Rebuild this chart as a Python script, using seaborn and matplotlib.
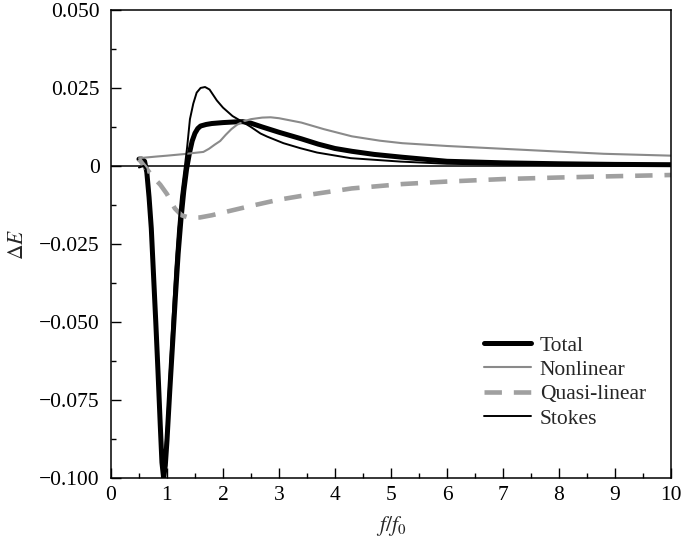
import numpy as np
import pandas as pd
import matplotlib
matplotlib.use("Agg")
import matplotlib.pyplot as plt
import seaborn as sns
from matplotlib.ticker import MultipleLocator, FixedLocator

# ---- data ----
total_f = [0.50, 0.55, 0.60, 0.64, 0.68, 0.72, 0.76, 0.80, 0.84, 0.88, 0.91, 0.94, 0.97,
           1.00, 1.05, 1.10, 1.15, 1.20, 1.25, 1.30, 1.35, 1.40, 1.45, 1.50, 1.55, 1.60,
           1.70, 1.80, 2.00, 2.20, 2.35, 2.50, 2.70, 3.00, 3.40, 3.70, 4.00, 4.30, 4.70,
           5.20, 6.00, 7.00, 8.00, 9.00, 10.0]
total_E = [0.0022, 0.0022, 0.0015, -0.002, -0.010, -0.020, -0.035, -0.050, -0.066, -0.083,
           -0.095, -0.100, -0.096, -0.088, -0.072, -0.057, -0.042, -0.028, -0.017, -0.008,
           -0.001, 0.004, 0.008, 0.0105, 0.012, 0.0128, 0.0133, 0.0136, 0.0139, 0.0141,
           0.0142, 0.0137, 0.0125, 0.0108, 0.0087, 0.0070, 0.0056, 0.0047, 0.0037, 0.0028,
           0.0015, 0.0010, 0.0007, 0.0005, 0.0004]

nonlin_f = [0.50, 0.80, 1.00, 1.30, 1.50, 1.65, 1.75, 1.85, 1.95, 2.05, 2.15, 2.25, 2.37,
            2.50, 2.70, 2.85, 3.00, 3.40, 3.80, 4.30, 4.80, 5.20, 6.00, 7.00, 8.00, 8.80, 10.0]
nonlin_E = [0.0025, 0.0030, 0.0033, 0.0038, 0.0042, 0.0045, 0.0055, 0.0068, 0.0080, 0.0100,
            0.0118, 0.0132, 0.0143, 0.0150, 0.0155, 0.0156, 0.0153, 0.0139, 0.0118, 0.0095,
            0.0081, 0.0073, 0.0064, 0.0055, 0.0046, 0.0039, 0.0033]

quasi_f = [0.50, 0.55, 0.65, 0.75, 0.88, 1.00, 1.14, 1.26, 1.40, 1.59, 1.80, 2.10, 2.50,
           3.00, 3.40, 4.30, 5.20, 6.00, 7.00, 8.00, 8.70, 10.0]
quasi_E = [0.0022, 0.0010, -0.0012, -0.0035, -0.0060, -0.0090, -0.0136, -0.0158, -0.0166,
           -0.0165, -0.0158, -0.0145, -0.0128, -0.0108, -0.0096, -0.0072, -0.0058, -0.0050,
           -0.0042, -0.0037, -0.0034, -0.0029]

stokes_f = [0.50, 0.58, 0.62, 0.66, 0.70, 0.74, 0.78, 0.82, 0.86, 0.90, 0.93, 0.96, 1.00,
            1.05, 1.10, 1.15, 1.20, 1.25, 1.32, 1.36, 1.41, 1.47, 1.53, 1.60, 1.68, 1.76,
            1.89, 2.00, 2.17, 2.34, 2.49, 2.67, 2.79, 3.08, 3.38, 3.68, 4.28, 5.17, 6.00,
            7.00, 8.00, 10.0]
stokes_E = [-0.0005, 0.0000, -0.001, -0.006, -0.014, -0.026, -0.040, -0.055, -0.072, -0.088,
            -0.095, -0.093, -0.083, -0.066, -0.049, -0.033, -0.020, -0.010, 0.000, 0.006,
            0.015, 0.020, 0.0235, 0.0250, 0.0253, 0.0245, 0.0210, 0.0187, 0.0160, 0.0142,
            0.0126, 0.0104, 0.0094, 0.0073, 0.0057, 0.0043, 0.0025, 0.0014, 0.0007, 0.0004,
            0.0002, 0.0001]

labels = ["Total", "Nonlinear", "Quasi-linear", "Stokes"]
x_ticks = list(range(0, 11))
y_ticks = [-0.100, -0.075, -0.050, -0.025, 0.0, 0.025, 0.050]
y_ticklabels = ["\u22120.100", "\u22120.075", "\u22120.050", "\u22120.025", "0", "0.025", "0.050"]

sns.set_theme(style="white")
plt.rcParams["font.family"] = ["Liberation Serif", "DejaVu Serif"]
plt.rcParams["mathtext.fontset"] = "stix"

fig = plt.figure(figsize=(6.85, 5.43), dpi=100)
ax = fig.add_axes([0.162, 0.1197, 0.8176, 0.862])

series = [
    (total_f, total_E, labels[0], dict(color="black", lw=3.6)),
    (nonlin_f, nonlin_E, labels[1], dict(color="#8a8a8a", lw=1.5)),
    (quasi_f, quasi_E, labels[2], dict(color="#a0a0a0", lw=3.3, dashes=(3.8, 2.6))),
    (stokes_f, stokes_E, labels[3], dict(color="black", lw=1.4)),
]
for fx, ey, lab, st in series:
    df = pd.DataFrame({"f": fx, "E": ey})
    kw = dict(st)
    dashes = kw.pop("dashes", None)
    sns.lineplot(data=df, x="f", y="E", ax=ax, label=lab, sort=False,
                 estimator=None, color=kw["color"], linewidth=kw["lw"])
    if dashes is not None:
        ax.lines[-1].set_dashes(dashes)
        ax.lines[-1].set_dash_capstyle("butt")

ax.axhline(0, color="black", lw=1.1, zorder=0.5)

ax.set_xlim(0, 10)
ax.set_ylim(-0.100, 0.050)
ax.xaxis.set_major_locator(FixedLocator(x_ticks))
ax.xaxis.set_minor_locator(MultipleLocator(0.5))
ax.yaxis.set_major_locator(FixedLocator(y_ticks))
ax.set_yticklabels(y_ticklabels)
ax.yaxis.set_minor_locator(MultipleLocator(0.0125))
ax.set_xticklabels([str(t) for t in x_ticks])

ax.tick_params(which="both", direction="in", top=False, right=False, bottom=True, left=True,
               labelsize=15.5, colors="black")
ax.tick_params(which="major", length=7, width=1.0)
ax.tick_params(axis="y", which="major", pad=8)
ax.tick_params(axis="x", which="major", pad=6)
ax.tick_params(which="minor", length=3.5, width=1.0)
for sp in ax.spines.values():
    sp.set_color("black")
    sp.set_linewidth(1.1)

ax.set_xlabel(r"$f/f_0$", fontsize=15.5, labelpad=6)
ax.set_ylabel(r"$\Delta E$", fontsize=15.5, labelpad=8)

leg = ax.legend(loc="lower right", bbox_to_anchor=(0.99, 0.064), frameon=False,
                fontsize=15.5, handlelength=2.2, handletextpad=0.4, labelspacing=0.2)

fig.savefig("out.png", dpi=100)
